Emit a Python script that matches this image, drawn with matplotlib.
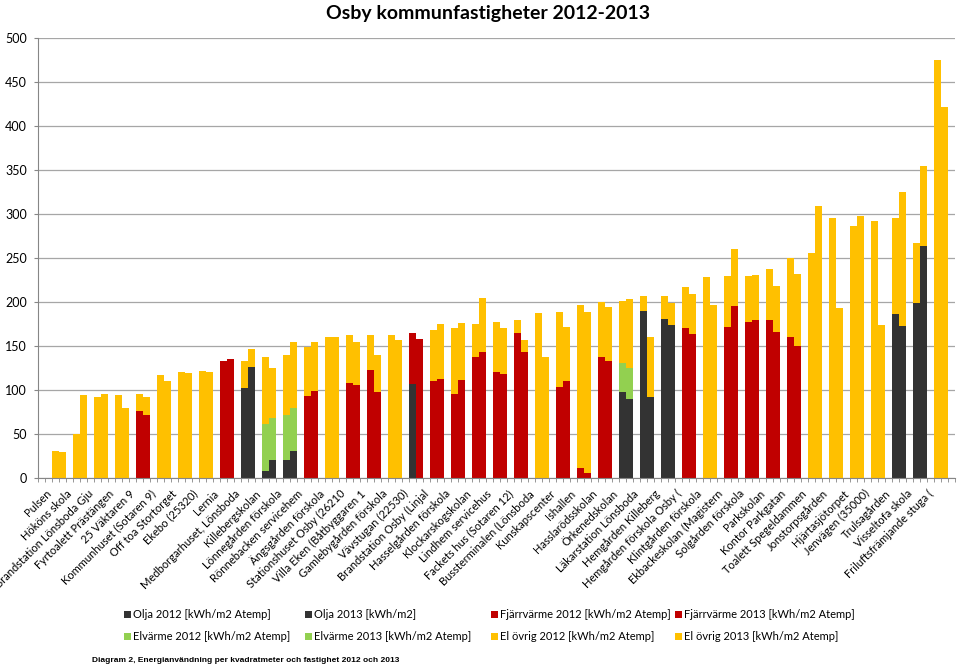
import matplotlib
matplotlib.use("Agg")
import matplotlib.pyplot as plt
from matplotlib.patches import Rectangle
import numpy as np

# Fastigheter (i diagrammets ordning)
byggnader = ["Pulsen", "Hököns skola", "Brandstation Lönsboda Gju", "Fyrtoalett Prästängen",
             "25 Väktaren 9", "Kommunhuset (Sotaren 9)", "Off toa Stortorget", "Ekebo (25320)",
             "Lernia", "Medborgarhuset, Lönsboda", "Killebergskolan", "Lönnegården förskola",
             "Rönnebacken servicehem", "Ängsgården förskola", "Stationshuset Osby (26210",
             "Villa Eken (Båtbyggaren 1", "Gamlebygården förskola", "Vävstugan (22530)",
             "Brandstation Osby (Linjal", "Hasselgården förskola", "Klockarskogskolan",
             "Lindhem servicehus", "Fackets hus (Sotaren 12)", "Bussterminalen (Lönsboda",
             "Kunskapscenter", "Ishallen", "Hasslarödsskolan", "Örkenedskolan",
             "Läkarstation Lönsboda", "Hemgården Killeberg", "Hemgården förskola Osby (",
             "Klintgården förskola", "Ekbackeskolan (Magistern", "Solgården förskola",
             "Parkskolan", "Kontor Parkgatan", "Toalett Spegeldammen", "Jonstorpsgården",
             "Hjärtasjötorpet", "Jenvägen (35000)", "Trulsagården", "Visseltofa skola",
             "Friluftsfrämjande stuga ("]

# kWh/m2 per energislag
olja_2012 = [0, 0, 0, 0, 0, 0, 0, 0, 0, 102, 8, 21, 0, 0, 0, 0, 0, 107, 0, 0, 0, 0,
             0, 0, 0, 0, 0, 98, 190, 181, 0, 0, 0, 0, 0, 0, 0, 0, 0, 0, 186, 199, 0]
olja_2013 = [0, 0, 0, 0, 0, 0, 0, 0, 0, 126, 20, 31, 0, 0, 0, 0, 0, 0, 0, 0, 0, 0,
             0, 0, 0, 0, 0, 90, 92, 174, 0, 0, 0, 0, 0, 0, 0, 0, 0, 0, 173, 264, 0]
fjv_2012 = [0, 0, 0, 0, 76, 0, 0, 0, 133, 0, 0, 0, 93, 0, 108, 123, 0, 58, 110, 95, 137, 121,
            165, 0, 103, 11, 137, 0, 0, 0, 170, 0, 172, 177, 179, 160, 0, 0, 0, 0, 0, 0, 0]
fjv_2013 = [0, 0, 0, 0, 72, 0, 0, 0, 135, 0, 0, 0, 99, 0, 106, 98, 0, 158, 113, 111, 143, 118,
            143, 0, 110, 6, 133, 0, 0, 0, 164, 0, 196, 179, 166, 150, 0, 0, 0, 0, 0, 0, 0]
elv_2012 = [0, 0, 0, 0, 0, 0, 0, 0, 0, 0, 53, 51, 0, 0, 0, 0, 0, 0, 0, 0, 0, 0,
            0, 0, 0, 0, 0, 33, 0, 0, 0, 0, 0, 0, 0, 0, 0, 0, 0, 0, 0, 0, 0]
elv_2013 = [0, 0, 0, 0, 0, 0, 0, 0, 0, 0, 48, 48, 0, 0, 0, 0, 0, 0, 0, 0, 0, 0,
            0, 0, 0, 0, 0, 35, 0, 0, 0, 0, 0, 0, 0, 0, 0, 0, 0, 0, 0, 0, 0]
elov_2012 = [31, 50, 92, 94, 19, 117, 120, 122, 0, 31, 77, 68, 56, 160, 54, 40, 163, 0, 58, 76,
             38, 56, 15, 187, 86, 186, 63, 70, 17, 26, 47, 228, 57, 53, 59, 90, 256, 295, 286,
             292, 109, 68, 475]
elov_2013 = [29, 94, 95, 79, 20, 110, 119, 121, 0, 21, 57, 75, 55, 160, 49, 42, 157, 0, 62, 65,
             61, 53, 14, 137, 62, 183, 61, 78, 68, 25, 45, 197, 64, 52, 52, 82, 309, 193, 298,
             174, 152, 91, 422]

farger = {"olja": "#333333", "fjv": "#C00000", "elv": "#92D050", "elov": "#FFC000"}
plt.rcParams["font.family"] = ["Lato", "DejaVu Sans"]

fig = plt.figure(figsize=(9.6, 6.65), dpi=100)
ax = fig.add_axes([38 / 960, 1 - 478 / 665, 917 / 960, 440 / 665])

n = len(byggnader)
k = np.arange(n)
x12 = 3 * k + 2.5
x13 = 3 * k + 3.5
bredd = 0.9

for xpos, serier in [(x12, [olja_2012, fjv_2012, elv_2012, elov_2012]),
                     (x13, [olja_2013, fjv_2013, elv_2013, elov_2013])]:
    botten = np.zeros(n)
    for namn, varden in zip(["olja", "fjv", "elv", "elov"], serier):
        v = np.array(varden, dtype=float)
        ax.bar(xpos, v, bredd, bottom=botten, color=farger[namn], linewidth=0)
        botten += v

ax.set_xlim(0, 131)
ax.set_ylim(0, 500)
ax.set_yticks(np.arange(0, 501, 50))
ax.yaxis.grid(True, color="#A6A6A6", linewidth=0.9)
ax.set_axisbelow(True)
for s in ["top", "right"]:
    ax.spines[s].set_visible(False)
for s in ["left", "bottom"]:
    ax.spines[s].set_color("#868686")
ax.tick_params(axis="y", length=3, color="#868686", pad=5, labelsize=9)

# små streck vid varje stapelplats, etiketter per fastighet
ax.set_xticks(np.arange(0, 132), minor=True)
ax.tick_params(axis="x", which="minor", length=3, color="#868686")
ax.set_xticks(3 * k + 1.6)
ax.set_xticklabels(byggnader, rotation=45, ha="right", va="center",
                   rotation_mode="anchor", fontsize=8)
ax.tick_params(axis="x", which="major", length=0, pad=10)

fig.text(488 / 960, 1 - 13 / 665, "Osby kommunfastigheter 2012-2013",
         ha="center", va="center", fontsize=14, fontweight="bold")

# förklaring
poster = [("olja", "Olja 2012 [kWh/m2 Atemp]"), ("olja", "Olja 2013 [kWh/m2]"),
          ("fjv", "Fjärrvärme 2012 [kWh/m2 Atemp]"), ("fjv", "Fjärrvärme 2013 [kWh/m2 Atemp]"),
          ("elv", "Elvärme 2012 [kWh/m2 Atemp]"), ("elv", "Elvärme 2013 [kWh/m2 Atemp]"),
          ("elov", "El övrig 2012 [kWh/m2 Atemp]"), ("elov", "El övrig 2013 [kWh/m2 Atemp]")]
kol_x = [124, 305, 491, 675]
rad_y = [614, 636]
for i, (namn, text) in enumerate(poster):
    px = kol_x[i % 4]
    py = rad_y[i // 4]
    fig.add_artist(Rectangle((px / 960, 1 - (py + 3.5) / 665), 7 / 960, 7 / 665,
                             transform=fig.transFigure, color=farger[namn], linewidth=0))
    fig.text((px + 9) / 960, 1 - py / 665, text, ha="left", va="center", fontsize=8)

fig.text(92 / 960, 1 - 660 / 665,
         "Diagram 2, Energianvändning per kvadratmeter och fastighet 2012 och 2013",
         ha="left", va="center", fontsize=6, fontweight="bold",
         family=["Liberation Sans Narrow", "Liberation Sans"])

fig.savefig("out.png", dpi=100)
